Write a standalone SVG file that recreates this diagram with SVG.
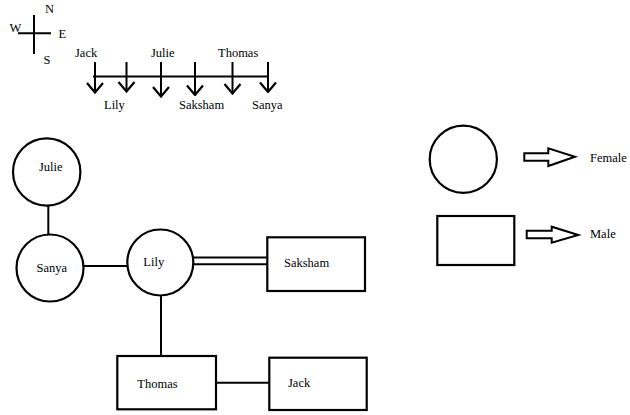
<svg xmlns="http://www.w3.org/2000/svg" width="630" height="415" viewBox="0 0 630 415">
<style>
text{font-family:"Liberation Serif","Tinos","DejaVu Serif","Times New Roman",serif;font-size:12.5px;fill:#000}
.s{fill:none;stroke:#000;stroke-width:2}
.n{fill:#fff;stroke:#000;stroke-width:2.2}
</style>
<defs>
<marker id="chev" viewBox="0 0 20 12" markerWidth="20" markerHeight="12" refX="10" refY="11" orient="0" markerUnits="userSpaceOnUse">
<polyline points="2,1.5 10,11 18,1.5" fill="none" stroke="#000" stroke-width="2.2"/>
</marker>
</defs>
<rect width="630" height="415" fill="#fff"/>
<g id="compass">
<line class="s" x1="34" y1="15" x2="34" y2="54"/>
<line class="s" x1="18" y1="33.3" x2="51" y2="33.3"/>
<text x="45" y="13.3">N</text>
<text x="9.5" y="32">W</text>
<text x="58.5" y="37.5">E</text>
<text x="43.5" y="63.5">S</text>
</g>
<g id="timeline">
<line class="s" x1="93" y1="76.5" x2="268.5" y2="76.5"/>
<line class="s" x1="95" y1="62" x2="95" y2="92.5" marker-end="url(#chev)"/>
<line class="s" x1="126.5" y1="62" x2="126.5" y2="91.5" marker-end="url(#chev)"/>
<line class="s" x1="161" y1="62" x2="161" y2="96.5" marker-end="url(#chev)"/>
<line class="s" x1="195" y1="62" x2="195" y2="95" marker-end="url(#chev)"/>
<line class="s" x1="232.5" y1="62" x2="232.5" y2="93.5" marker-end="url(#chev)"/>
<line class="s" x1="268" y1="62" x2="268" y2="92" marker-end="url(#chev)"/>
<text x="75" y="57">Jack</text>
<text x="151" y="57">Julie</text>
<text x="218" y="57">Thomas</text>
<text x="104" y="109">Lily</text>
<text x="179" y="109">Saksham</text>
<text x="252" y="109">Sanya</text>
</g>
<g id="connectors">
<line class="s" x1="48.3" y1="205" x2="48.3" y2="235"/>
<line class="s" x1="83" y1="266" x2="128" y2="266"/>
<line class="s" x1="193" y1="257.5" x2="268" y2="257.5"/>
<line class="s" x1="193" y1="264.3" x2="268" y2="264.3"/>
<line class="s" x1="161" y1="295" x2="161" y2="356"/>
<line class="s" x1="216" y1="382.7" x2="269.5" y2="382.7"/>
</g>
<g id="julie">
<circle class="n" cx="46.7" cy="172" r="33.7"/>
<text x="39" y="171">Julie</text>
</g>
<g id="sanya">
<circle class="n" cx="50" cy="268" r="33.5"/>
<text x="36.5" y="271.7">Sanya</text>
</g>
<g id="lily">
<circle class="n" cx="160.3" cy="262.5" r="33"/>
<text x="143.3" y="266">Lily</text>
</g>
<g id="saksham">
<rect class="n" x="267.3" y="237.3" width="97.7" height="53.7"/>
<text x="284" y="267.3">Saksham</text>
</g>
<g id="thomas">
<rect class="n" x="117.3" y="356" width="98.7" height="53.3"/>
<text x="137.3" y="387.7">Thomas</text>
</g>
<g id="jack">
<rect class="n" x="269.3" y="357.7" width="97.4" height="52.3"/>
<text x="288" y="386.7">Jack</text>
</g>
<g id="legend-female">
<circle class="n" cx="463.3" cy="159.3" r="33.6"/>
<polygon class="s" points="524.3,153.3 548.3,153.3 548.3,148.3 575,156.7 548.3,166 548.3,160.7 524.3,160.7"/>
<text x="590" y="161.7" font-size="12">Female</text>
</g>
<g id="legend-male">
<rect class="n" x="437.3" y="216" width="77" height="49"/>
<polygon class="s" points="526.7,230.7 551.7,230.7 551.7,226.7 578.3,235 551.7,242.7 551.7,238.3 526.7,238.3"/>
<text x="590" y="238.3" font-size="12">Male</text>
</g>
</svg>
